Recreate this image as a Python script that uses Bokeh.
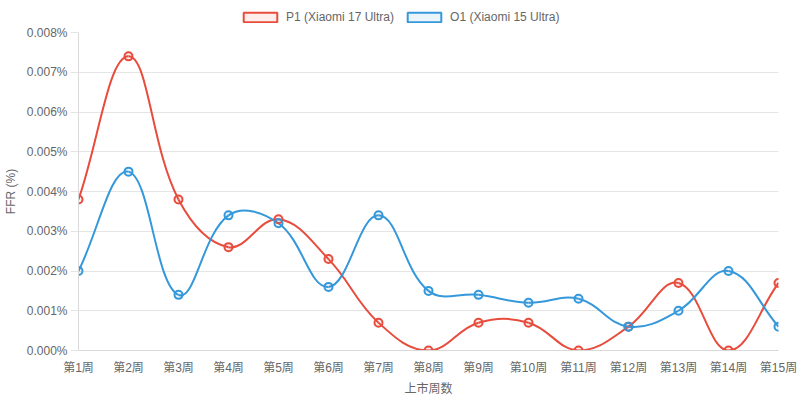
from bokeh.plotting import figure
from bokeh.layouts import column
from bokeh.models import ColumnDataSource, Legend, LegendItem, FixedTicker, PrintfTickFormatter, Range1d
from bokeh.embed import file_html
from bokeh.resources import INLINE

weeks = ["第1周", "第2周", "第3周", "第4周", "第5周", "第6周", "第7周", "第8周",
         "第9周", "第10周", "第11周", "第12周", "第13周", "第14周", "第15周"]
p1_values = [0.0038, 0.0074, 0.0038, 0.0026, 0.0033, 0.0023, 0.0007, 0.0000,
             0.0007, 0.0007, 0.0000, 0.0006, 0.0017, 0.0000, 0.0017]
o1_values = [0.0020, 0.0045, 0.0014, 0.0034, 0.0032, 0.0016, 0.0034, 0.0015,
             0.0014, 0.0012, 0.0013, 0.0006, 0.0010, 0.0020, 0.0006]
y_ticks = [0.000, 0.001, 0.002, 0.003, 0.004, 0.005, 0.006, 0.007, 0.008]
series_names = ["P1 (Xiaomi 17 Ultra)", "O1 (Xiaomi 15 Ultra)"]

RED = "#e74c3c"
BLUE = "#3498db"
RED_FILL = "rgba(231,76,60,0.1)"
BLUE_FILL = "rgba(52,152,219,0.1)"
FONT = "'Liberation Sans', 'Noto Sans CJK SC', sans-serif"
TXT = "#666666"
GRID = "#e5e5e5"
NAN = float("nan")

W = 800
LH = 25            # legend strip height
H = 376            # main chart height
ML, MR, MT, MB = 77, 22, 7, 51
PX_X = (W - ML - MR) / (len(weeks) - 1)
PX_Y = (H - MT - MB) / (y_ticks[-1] - y_ticks[0])


def spline_segments(vals, t=0.4):
    """Chart.js style spline control points (computed in pixel space)."""
    n = len(vals)
    xs = [float(i) for i in range(n)]
    ys = list(vals)
    lo, hi = y_ticks[0] * PX_Y, y_ticks[-1] * PX_Y
    prev_c, next_c = [], []
    for i in range(n):
        pi = max(i - 1, 0)
        ni = min(i + 1, n - 1)
        cx, cy = xs[i] * PX_X, ys[i] * PX_Y
        px, py = xs[pi] * PX_X, ys[pi] * PX_Y
        nx, ny = xs[ni] * PX_X, ys[ni] * PX_Y
        d01 = ((cx - px) ** 2 + (cy - py) ** 2) ** 0.5
        d12 = ((nx - cx) ** 2 + (ny - cy) ** 2) ** 0.5
        tot = d01 + d12
        s01 = d01 / tot if tot else 0
        s12 = d12 / tot if tot else 0
        fa, fb = t * s01, t * s12
        pcx = cx - fa * (nx - px)
        pcy = min(max(cy - fa * (ny - py), lo), hi)
        ncx = cx + fb * (nx - px)
        ncy = min(max(cy + fb * (ny - py), lo), hi)
        prev_c.append((pcx / PX_X, pcy / PX_Y))
        next_c.append((ncx / PX_X, ncy / PX_Y))
    data = dict(x0=[], y0=[], x1=[], y1=[], cx0=[], cy0=[], cx1=[], cy1=[])
    for i in range(n - 1):
        data["x0"].append(xs[i]); data["y0"].append(ys[i])
        data["x1"].append(xs[i + 1]); data["y1"].append(ys[i + 1])
        data["cx0"].append(next_c[i][0]); data["cy0"].append(next_c[i][1])
        data["cx1"].append(prev_c[i + 1][0]); data["cy1"].append(prev_c[i + 1][1])
    return ColumnDataSource(data)


# ---- legend strip ----
lg = figure(width=W, height=LH, output_backend="svg", toolbar_location=None,
            x_range=Range1d(0, 1), y_range=Range1d(0, 1),
            min_border_left=0, min_border_right=0, min_border_top=0, min_border_bottom=0,
            x_axis_type=None, y_axis_type=None)
lg.outline_line_color = None
lg.xgrid.visible = False
lg.ygrid.visible = False
legend_items = []
for color, fill, name in [(RED, RED_FILL, series_names[0]), (BLUE, BLUE_FILL, series_names[1])]:
    # legend-only carrier glyph (NaN coordinates: nothing drawn in the plot area)
    dummy = lg.quad(left=[NAN], right=[NAN], top=[NAN], bottom=[NAN], fill_color=fill,
                    line_color=color, line_width=2)
    legend_items.append(LegendItem(label=name, renderers=[dummy], index=0))
legend = Legend(items=legend_items, orientation="horizontal", location=(161, 1),
                glyph_width=42, glyph_height=12, label_height=12, label_standoff=5,
                spacing=9, padding=0, margin=0, border_line_color=None,
                background_fill_alpha=0, label_text_font=FONT, label_text_font_size="12px",
                label_text_color=TXT)
lg.add_layout(legend, "center")

# ---- main chart ----
p = figure(width=W, height=H, output_backend="svg", toolbar_location=None,
           x_range=Range1d(0, len(weeks) - 1), y_range=Range1d(y_ticks[0], y_ticks[-1]),
           min_border_left=ML, min_border_right=MR, min_border_top=MT, min_border_bottom=MB,
           background_fill_color="white", border_fill_color="white")
p.outline_line_color = None

idx = list(range(len(weeks)))
for vals, color in [(p1_values, RED), (o1_values, BLUE)]:
    src = spline_segments(vals)
    p.bezier(x0="x0", y0="y0", x1="x1", y1="y1", cx0="cx0", cy0="cy0", cx1="cx1", cy1="cy1",
             source=src, line_color=color, line_width=2)
for vals, color, fill in [(p1_values, RED, RED_FILL), (o1_values, BLUE, BLUE_FILL)]:
    p.scatter(idx, vals, size=8, marker="circle", line_color=color, line_width=2,
              fill_color=fill)

# x axis
p.xaxis.ticker = FixedTicker(ticks=idx)
p.xaxis.major_label_overrides = {i: w for i, w in enumerate(weeks)}
p.xaxis.axis_label = "上市周数"
p.xaxis.major_tick_line_color = None
p.xaxis.minor_tick_line_color = None
p.xaxis.axis_line_color = "#d9d9d9"
p.xaxis.major_label_standoff = 4
p.xaxis.axis_label_standoff = 4

# y axis
p.yaxis.ticker = FixedTicker(ticks=y_ticks)
p.yaxis.formatter = PrintfTickFormatter(format="%.3f%%")
p.yaxis.axis_label = "FFR (%)"
p.yaxis.major_tick_out = 8
p.yaxis.major_tick_in = 0
p.yaxis.major_tick_line_color = GRID
p.yaxis.minor_tick_line_color = None
p.yaxis.axis_line_color = "#d9d9d9"
p.yaxis.major_label_standoff = 3
p.yaxis.axis_label_standoff = 6

for ax in (p.xaxis, p.yaxis):
    ax.major_label_text_font = FONT
    ax.major_label_text_font_size = "12px"
    ax.major_label_text_color = TXT
    ax.axis_label_text_font = FONT
    ax.axis_label_text_font_size = "12px"
    ax.axis_label_text_color = TXT
    ax.axis_label_text_font_style = "normal"

p.xgrid.grid_line_color = None
p.ygrid.grid_line_color = GRID
p.ygrid.ticker = FixedTicker(ticks=y_ticks)

page = column(lg, p, spacing=0)
open("out.html", "w").write(file_html(page, INLINE))
